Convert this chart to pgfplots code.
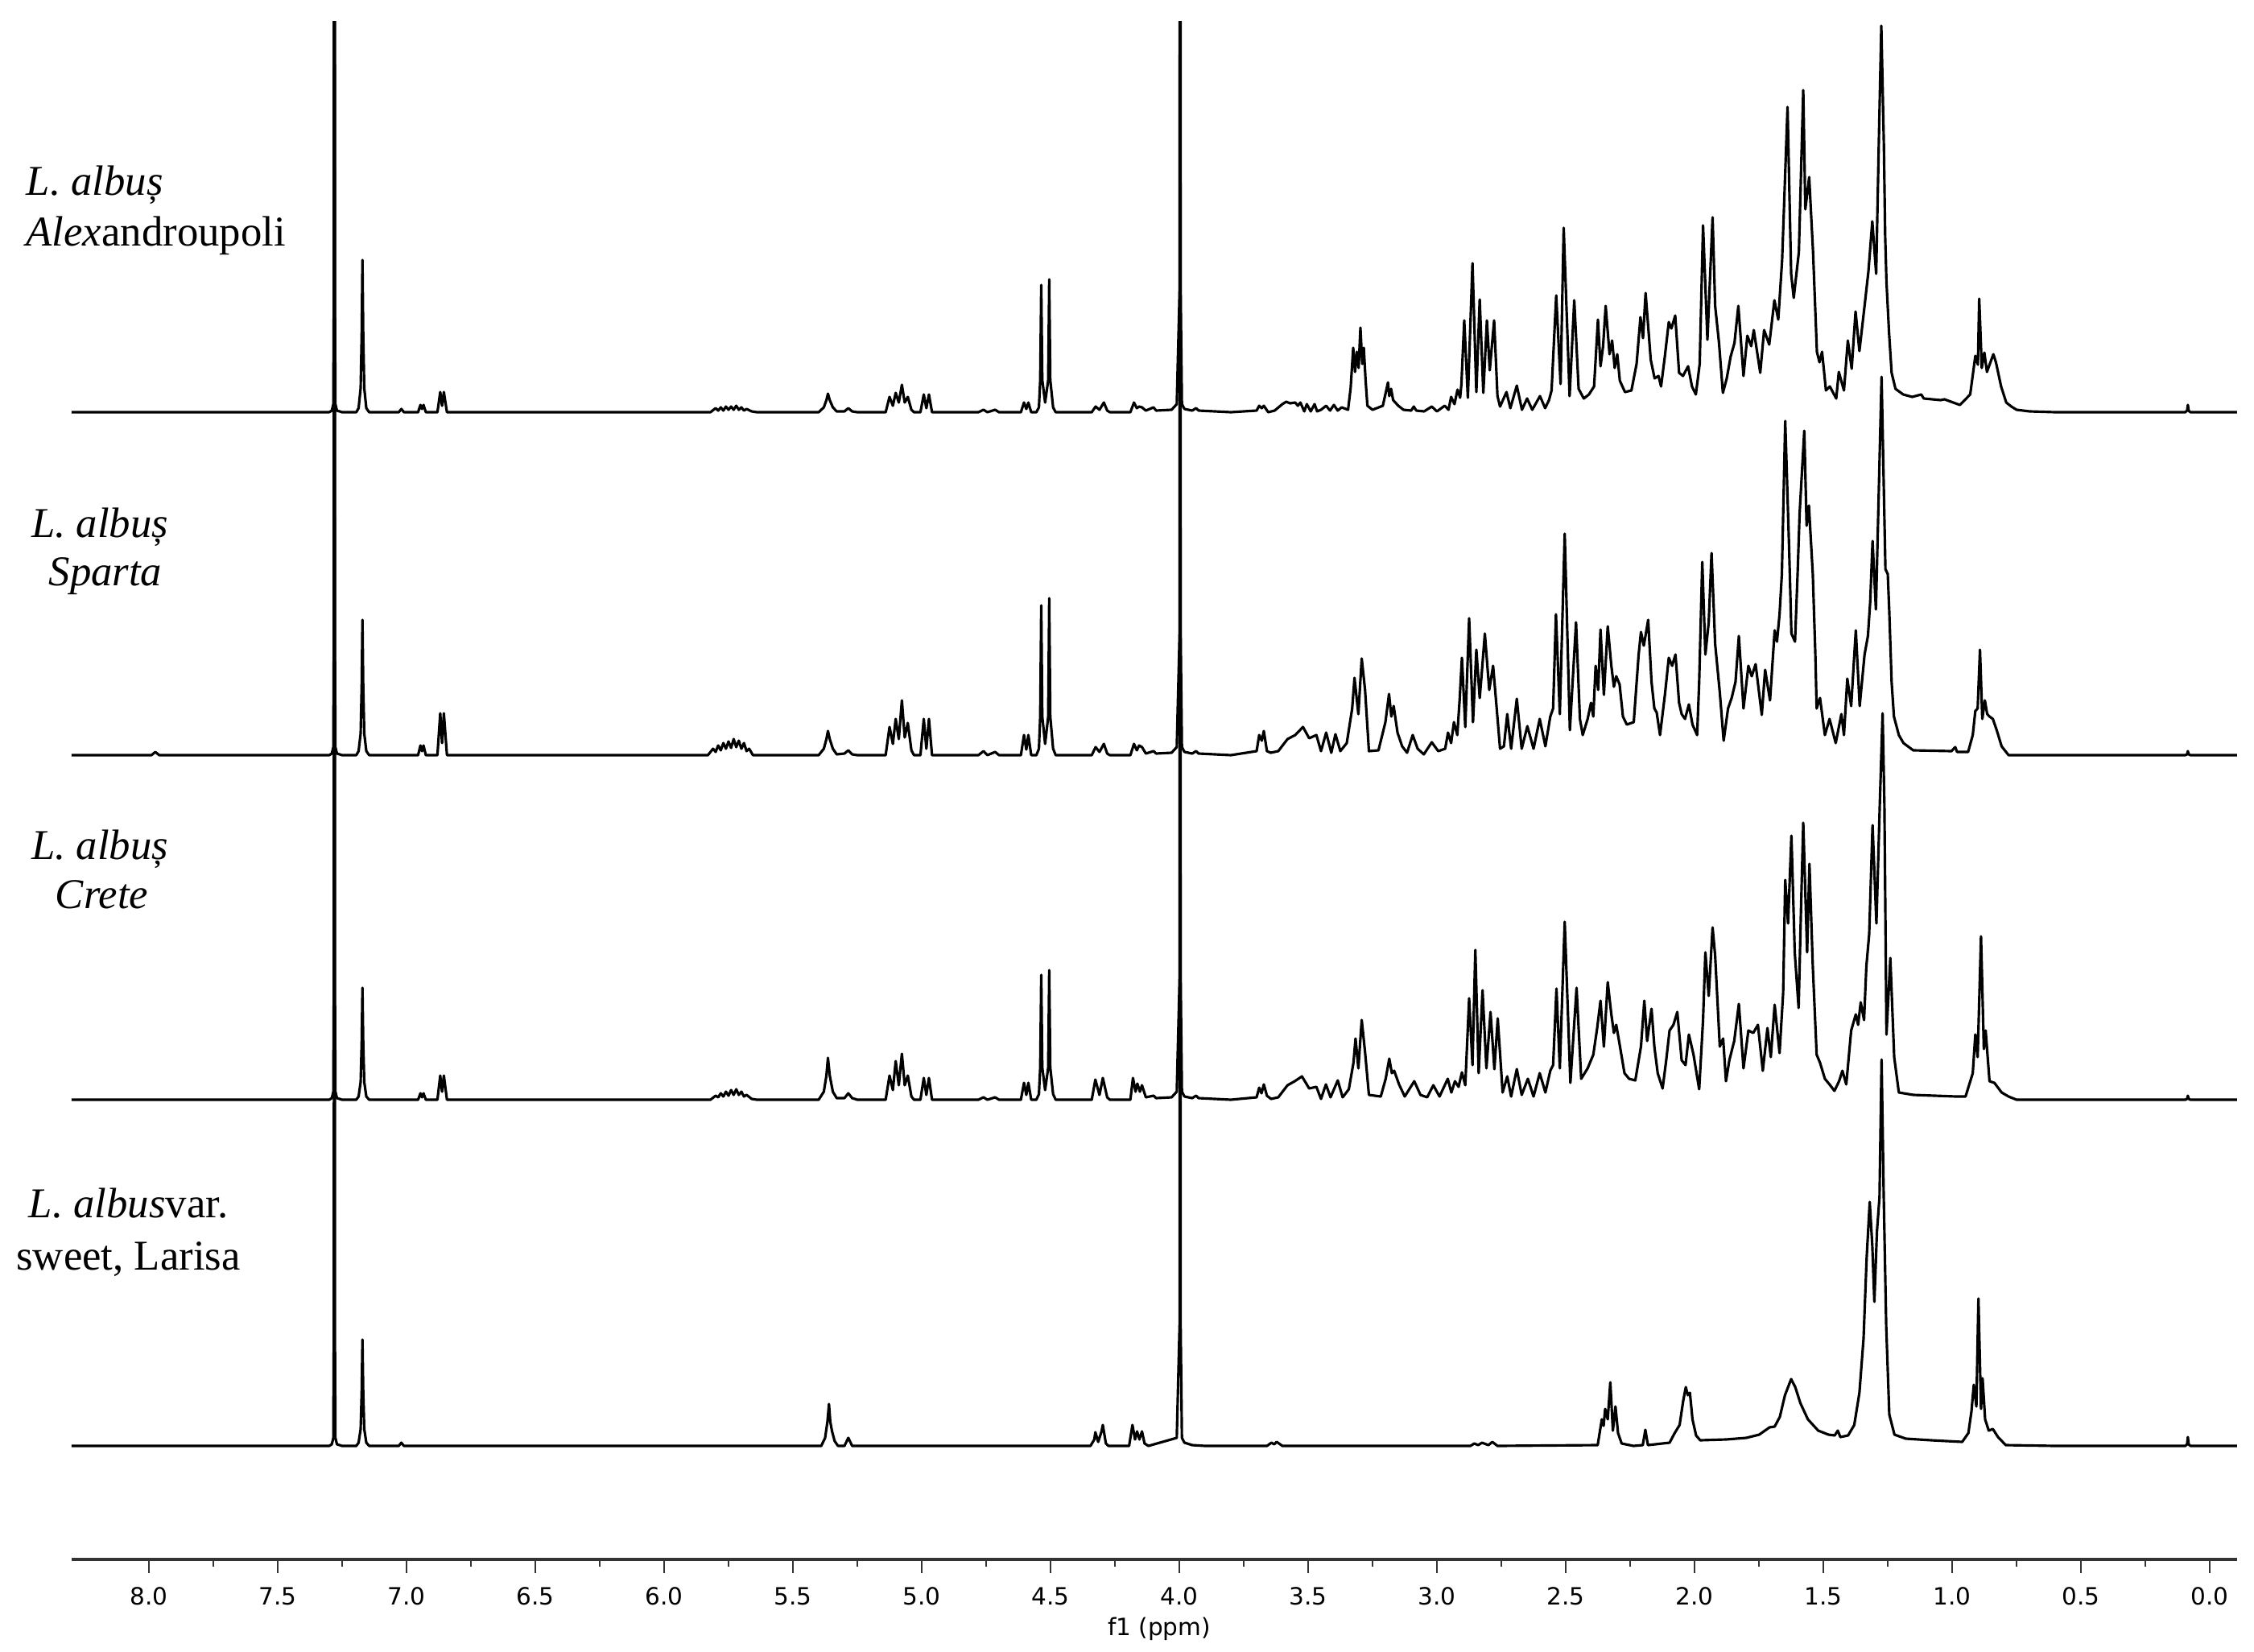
\documentclass[border=0pt]{standalone}
\usepackage{fontspec}
\setmainfont{Liberation Serif}
\newfontfamily\dejavu{DejaVu Sans}
\usepackage{pgfplots}
\pgfplotsset{compat=1.18}
\usepackage{pgfplotstable}

% heights in px above each trace's own baseline, x in ppm
\pgfplotstableread[row sep=\\]{
x h\\
8.3 0\\ 7.30 0\\ 7.29 2\\ 7.284 10\\ 7.282 150\\ 7.28 2000\\ 7.278 150\\ 7.276 10\\ 7.27 2\\ 7.25 0\\
7.195 0\\ 7.186 5\\ 7.178 30\\ 7.174 95\\ 7.171 189\\ 7.168 95\\ 7.164 30\\ 7.156 5\\ 7.145 0\\
7.03 0\\ 7.02 4\\ 7.01 0\\ 6.955 0\\ 6.946 9\\ 6.94 4\\ 6.934 9\\ 6.925 0\\
6.88 0\\ 6.869 25\\ 6.862 8\\ 6.855 25\\ 6.843 0\\
5.82 0\\ 5.80 5\\ 5.79 2\\ 5.78 6\\ 5.77 2\\ 5.76 7\\ 5.75 3\\ 5.74 7\\ 5.73 3\\ 5.72 8\\ 5.71 3\\ 5.70 6\\ 5.69 2\\ 5.68 4\\ 5.66 1\\ 5.64 0\\
5.40 0\\ 5.38 6\\ 5.37 15\\ 5.364 23\\ 5.357 15\\ 5.345 6\\ 5.33 1\\ 5.30 1\\ 5.285 5\\ 5.27 1\\ 5.25 0\\
5.14 0\\ 5.125 19\\ 5.112 8\\ 5.101 24\\ 5.089 12\\ 5.077 34\\ 5.066 12\\ 5.054 19\\ 5.04 3\\ 5.03 0\\
5.005 0\\ 4.992 22\\ 4.982 5\\ 4.972 22\\ 4.96 0\\ 4.78 0\\ 4.76 3\\ 4.745 0\\ 4.715 3\\ 4.70 0\\
4.615 0\\ 4.603 12\\ 4.594 4\\ 4.586 12\\ 4.575 0\\
4.555 0\\ 4.545 6\\ 4.540 40\\ 4.536 158\\ 4.532 40\\ 4.521 12\\ 4.509 40\\ 4.505 165\\ 4.501 40\\ 4.49 6\\ 4.48 0\\
4.34 0\\ 4.325 7\\ 4.31 3\\ 4.293 12\\ 4.28 2\\ 4.27 0\\
4.19 0\\ 4.176 12\\ 4.165 5\\ 4.156 7\\ 4.145 6\\ 4.13 2\\ 4.10 6\\ 4.09 2\\ 4.03 3\\
4.01 10\\ 3.999 150\\ 3.997 2000\\ 3.995 150\\ 3.99 10\\ 3.98 4\\ 3.95 2\\ 3.935 5\\ 3.925 2\\ 3.80 0\\
3.70 2\\ 3.69 8\\ 3.68 5\\ 3.672 8\\ 3.655 0\\ 3.63 2\\ 3.615 6\\ 3.60 10\\ 3.585 13\\ 3.57 11\\ 3.55 12\\ 3.54 8\\ 3.53 12\\
3.515 1\\ 3.505 10\\ 3.49 1\\ 3.475 10\\ 3.465 1\\ 3.45 3\\ 3.43 8\\ 3.415 2\\ 3.40 9\\ 3.385 2\\ 3.37 6\\ 3.345 3\\
3.335 30\\ 3.325 80\\ 3.318 50\\ 3.311 75\\ 3.304 55\\ 3.297 105\\ 3.29 60\\ 3.284 80\\ 3.277 40\\ 3.27 8\\ 3.25 3\\
3.21 8\\ 3.19 37\\ 3.185 20\\ 3.178 29\\ 3.17 15\\ 3.15 8\\ 3.13 3\\ 3.10 2\\ 3.09 7\\ 3.08 2\\ 3.05 1\\ 3.02 7\\ 3.00 1\\
2.97 8\\ 2.955 3\\ 2.945 19\\ 2.932 10\\ 2.92 28\\ 2.91 18\\ 2.905 35\\ 2.894 114\\ 2.88 18\\ 2.862 185\\ 2.847 25\\
2.834 140\\ 2.82 24\\ 2.806 114\\ 2.795 52\\ 2.778 114\\ 2.765 20\\ 2.755 7\\ 2.73 25\\ 2.715 5\\ 2.69 33\\ 2.67 3\\
2.65 17\\ 2.63 3\\ 2.60 20\\ 2.58 5\\ 2.565 15\\ 2.555 27\\ 2.537 145\\ 2.52 35\\ 2.508 229\\ 2.485 20\\ 2.467 139\\
2.45 29\\ 2.43 17\\ 2.41 22\\ 2.39 32\\ 2.375 115\\ 2.365 57\\ 2.355 82\\ 2.345 132\\ 2.33 72\\ 2.32 89\\ 2.31 55\\
2.30 72\\ 2.29 39\\ 2.27 25\\ 2.245 27\\ 2.225 60\\ 2.21 118\\ 2.20 92\\ 2.19 148\\ 2.17 65\\ 2.155 42\\ 2.14 45\\
2.13 32\\ 2.115 70\\ 2.10 112\\ 2.09 104\\ 2.075 120\\ 2.06 49\\ 2.045 45\\ 2.025 57\\ 2.01 32\\ 1.995 22\\ 1.98 60\\
1.967 232\\ 1.95 90\\ 1.93 242\\ 1.92 132\\ 1.905 86\\ 1.89 24\\ 1.875 42\\ 1.86 69\\ 1.845 86\\ 1.83 132\\ 1.81 45\\
1.795 95\\ 1.78 82\\ 1.77 102\\ 1.745 49\\ 1.73 102\\ 1.71 84\\ 1.69 139\\ 1.675 115\\ 1.66 189\\ 1.639 379\\
1.625 172\\ 1.615 142\\ 1.595 199\\ 1.578 400\\ 1.57 252\\ 1.555 292\\ 1.54 199\\ 1.525 75\\ 1.515 62\\ 1.505 75\\
1.49 27\\ 1.475 32\\ 1.45 17\\ 1.44 50\\ 1.42 27\\ 1.405 89\\ 1.39 54\\ 1.375 125\\ 1.36 76\\ 1.34 132\\ 1.325 175\\
1.31 237\\ 1.295 172\\ 1.285 330\\ 1.275 480\\ 1.265 330\\ 1.26 219\\ 1.255 162\\ 1.245 99\\ 1.235 49\\ 1.22 29\\
1.19 22\\ 1.155 19\\ 1.12 22\\ 1.11 17\\ 1.045 15\\ 1.03 16\\ 0.97 9\\ 0.93 22\\ 0.91 70\\ 0.90 59\\ 0.895 141\\
0.885 55\\ 0.875 74\\ 0.865 50\\ 0.84 72\\ 0.83 62\\ 0.81 32\\ 0.79 12\\ 0.77 7\\ 0.75 3\\ 0.70 1\\ 0.60 0\\
0.095 0\\ 0.088 2\\ 0.085 9\\ 0.082 2\\ 0.075 0\\ -0.106 0\\
}\specA

\pgfplotstableread[row sep=\\]{
x h\\
8.3 0\\ 7.99 0\\ 7.975 4\\ 7.96 0\\ 7.30 0\\ 7.29 2\\ 7.284 10\\ 7.282 150\\ 7.28 2000\\ 7.278 150\\ 7.276 10\\ 7.27 2\\ 7.25 0\\
7.195 0\\ 7.186 5\\ 7.178 27\\ 7.174 85\\ 7.171 168\\ 7.168 85\\ 7.164 27\\ 7.156 5\\ 7.145 0\\
6.955 0\\ 6.946 12\\ 6.94 5\\ 6.934 12\\ 6.925 0\\ 6.88 0\\ 6.869 52\\ 6.862 15\\ 6.855 52\\ 6.843 0\\
5.83 0\\ 5.81 8\\ 5.80 4\\ 5.79 12\\ 5.78 6\\ 5.77 15\\ 5.76 8\\ 5.75 17\\ 5.74 9\\ 5.73 20\\ 5.72 10\\ 5.71 18\\ 5.70 8\\ 5.69 15\\ 5.68 5\\ 5.67 8\\ 5.655 0\\
5.40 0\\ 5.38 8\\ 5.37 20\\ 5.364 30\\ 5.357 20\\ 5.345 8\\ 5.33 1\\ 5.30 2\\ 5.285 6\\ 5.27 1\\ 5.25 0\\
5.14 0\\ 5.125 35\\ 5.112 14\\ 5.101 45\\ 5.089 20\\ 5.077 68\\ 5.066 22\\ 5.054 40\\ 5.04 6\\ 5.03 0\\
5.005 0\\ 4.992 45\\ 4.982 8\\ 4.972 45\\ 4.96 0\\ 4.78 0\\ 4.76 5\\ 4.745 0\\ 4.715 4\\ 4.70 0\\
4.615 0\\ 4.603 25\\ 4.594 7\\ 4.586 25\\ 4.575 0\\
4.555 0\\ 4.545 8\\ 4.540 48\\ 4.536 186\\ 4.532 48\\ 4.521 14\\ 4.509 48\\ 4.505 195\\ 4.501 48\\ 4.49 8\\ 4.48 0\\
4.34 0\\ 4.325 10\\ 4.31 4\\ 4.293 14\\ 4.28 2\\ 4.27 0\\
4.19 0\\ 4.176 14\\ 4.165 6\\ 4.156 12\\ 4.145 10\\ 4.13 2\\ 4.10 5\\ 4.09 2\\ 4.03 3\\
4.01 10\\ 3.999 150\\ 3.997 2000\\ 3.995 150\\ 3.99 10\\ 3.98 4\\ 3.95 2\\ 3.935 5\\ 3.925 2\\ 3.80 0\\
3.70 5\\ 3.69 25\\ 3.68 18\\ 3.672 30\\ 3.66 5\\ 3.645 3\\ 3.616 5\\ 3.58 20\\ 3.55 25\\ 3.52 35\\ 3.496 21\\
3.468 25\\ 3.45 5\\ 3.43 28\\ 3.41 3\\ 3.394 26\\ 3.375 5\\ 3.35 15\\
3.329 58\\ 3.32 96\\ 3.305 51\\ 3.292 120\\ 3.279 81\\ 3.264 5\\ 3.227 6\\ 3.20 41\\ 3.186 76\\ 3.177 48\\ 3.168 61\\
3.153 28\\ 3.135 11\\ 3.116 3\\ 3.094 25\\ 3.075 8\\ 3.051 1\\ 3.02 16\\ 2.995 5\\ 2.968 8\\ 2.957 28\\ 2.945 15\\
2.934 41\\ 2.921 25\\ 2.912 68\\ 2.903 121\\ 2.89 35\\ 2.875 170\\ 2.86 41\\ 2.847 131\\ 2.834 71\\ 2.827 98\\
2.814 151\\ 2.797 81\\ 2.782 111\\ 2.768 58\\ 2.755 8\\ 2.74 11\\ 2.727 51\\ 2.712 8\\ 2.69 70\\ 2.671 8\\ 2.649 36\\
2.625 8\\ 2.601 45\\ 2.579 11\\ 2.56 48\\ 2.549 58\\ 2.538 175\\ 2.523 51\\ 2.504 275\\ 2.484 31\\ 2.46 165\\
2.445 45\\ 2.434 25\\ 2.415 45\\ 2.402 65\\ 2.393 48\\ 2.384 111\\ 2.374 81\\ 2.365 156\\ 2.352 75\\ 2.337 160\\
2.323 111\\ 2.313 85\\ 2.304 98\\ 2.291 88\\ 2.278 48\\ 2.263 38\\ 2.236 41\\ 2.217 125\\ 2.208 153\\ 2.197 136\\
2.18 168\\ 2.167 91\\ 2.156 58\\ 2.147 53\\ 2.134 25\\ 2.115 75\\ 2.10 121\\ 2.087 111\\ 2.074 125\\ 2.06 65\\
2.05 51\\ 2.037 45\\ 2.022 63\\ 2.008 38\\ 1.99 25\\ 1.982 91\\ 1.97 240\\ 1.958 125\\ 1.945 165\\ 1.934 251\\
1.92 138\\ 1.902 78\\ 1.887 18\\ 1.87 58\\ 1.856 71\\ 1.841 91\\ 1.828 148\\ 1.81 58\\ 1.791 111\\ 1.778 98\\
1.763 113\\ 1.739 50\\ 1.726 106\\ 1.707 68\\ 1.689 155\\ 1.68 141\\ 1.67 175\\ 1.661 225\\ 1.648 415\\ 1.633 258\\
1.624 151\\ 1.61 141\\ 1.60 225\\ 1.592 301\\ 1.574 403\\ 1.565 285\\ 1.556 310\\ 1.541 225\\ 1.531 125\\ 1.526 58\\
1.513 71\\ 1.494 25\\ 1.476 45\\ 1.452 15\\ 1.43 51\\ 1.42 25\\ 1.407 95\\ 1.392 61\\ 1.374 155\\ 1.359 61\\ 1.34 125\\
1.327 148\\ 1.318 191\\ 1.309 266\\ 1.296 181\\ 1.285 325\\ 1.274 470\\ 1.267 358\\ 1.259 231\\ 1.25 225\\ 1.244 178\\
1.235 91\\ 1.226 48\\ 1.207 25\\ 1.189 15\\ 1.151 6\\ 1.003 5\\ 0.988 10\\ 0.981 4\\ 0.938 4\\ 0.92 25\\ 0.91 55\\
0.901 58\\ 0.892 131\\ 0.883 45\\ 0.873 68\\ 0.864 51\\ 0.855 48\\ 0.842 45\\ 0.827 31\\ 0.808 11\\ 0.781 0\\
0.095 0\\ 0.088 1\\ 0.085 5\\ 0.082 1\\ 0.075 0\\ -0.106 0\\
}\specB

\pgfplotstableread[row sep=\\]{
x h\\
8.3 0\\ 7.30 0\\ 7.29 2\\ 7.284 10\\ 7.282 150\\ 7.28 2000\\ 7.278 150\\ 7.276 10\\ 7.27 2\\ 7.25 0\\
7.195 0\\ 7.186 4\\ 7.178 22\\ 7.174 70\\ 7.171 139\\ 7.168 70\\ 7.164 22\\ 7.156 4\\ 7.145 0\\
6.955 0\\ 6.946 8\\ 6.94 3\\ 6.934 8\\ 6.925 0\\ 6.88 0\\ 6.869 30\\ 6.862 10\\ 6.855 30\\ 6.843 0\\
5.82 0\\ 5.80 5\\ 5.79 3\\ 5.78 8\\ 5.77 4\\ 5.76 10\\ 5.75 5\\ 5.74 12\\ 5.73 6\\ 5.72 13\\ 5.71 6\\ 5.70 10\\ 5.69 4\\ 5.68 6\\ 5.66 1\\ 5.64 0\\
5.40 0\\ 5.38 10\\ 5.37 30\\ 5.364 52\\ 5.357 30\\ 5.345 10\\ 5.33 2\\ 5.30 2\\ 5.285 8\\ 5.27 2\\ 5.25 0\\
5.14 0\\ 5.125 30\\ 5.112 12\\ 5.101 48\\ 5.089 18\\ 5.077 57\\ 5.066 18\\ 5.054 30\\ 5.04 4\\ 5.03 0\\
5.005 0\\ 4.992 27\\ 4.982 6\\ 4.972 27\\ 4.96 0\\ 4.78 0\\ 4.76 3\\ 4.745 0\\ 4.715 3\\ 4.70 0\\
4.615 0\\ 4.603 21\\ 4.594 6\\ 4.586 21\\ 4.575 0\\
4.555 0\\ 4.545 7\\ 4.540 40\\ 4.536 155\\ 4.532 40\\ 4.521 12\\ 4.509 40\\ 4.505 161\\ 4.501 40\\ 4.49 7\\ 4.48 0\\
4.34 0\\ 4.326 25\\ 4.31 6\\ 4.297 27\\ 4.28 3\\ 4.27 0\\
4.19 0\\ 4.18 27\\ 4.17 10\\ 4.163 20\\ 4.153 10\\ 4.145 18\\ 4.13 3\\ 4.10 5\\ 4.09 2\\ 4.03 3\\
4.01 10\\ 3.999 150\\ 3.997 2000\\ 3.995 150\\ 3.99 10\\ 3.98 4\\ 3.95 2\\ 3.935 5\\ 3.925 2\\ 3.80 0\\
3.70 3\\ 3.69 15\\ 3.681 8\\ 3.672 19\\ 3.66 5\\ 3.644 1\\ 3.616 3\\ 3.58 18\\ 3.552 23\\ 3.524 29\\ 3.496 14\\
3.468 16\\ 3.45 1\\ 3.431 19\\ 3.413 3\\ 3.385 24\\ 3.366 3\\ 3.342 13\\
3.324 46\\ 3.316 76\\ 3.305 39\\ 3.292 99\\ 3.279 59\\ 3.264 6\\ 3.218 4\\ 3.199 26\\ 3.185 51\\ 3.175 33\\ 3.166 36\\
3.147 19\\ 3.125 4\\ 3.088 23\\ 3.064 6\\ 3.038 3\\ 3.014 18\\ 2.99 4\\ 2.958 26\\ 2.944 9\\ 2.93 23\\ 2.916 16\\
2.903 34\\ 2.89 18\\ 2.875 126\\ 2.862 43\\ 2.851 186\\ 2.838 33\\ 2.823 136\\ 2.808 39\\ 2.792 109\\ 2.777 38\\
2.764 101\\ 2.745 9\\ 2.727 29\\ 2.712 4\\ 2.69 38\\ 2.671 6\\ 2.647 26\\ 2.625 4\\ 2.601 33\\ 2.579 9\\ 2.56 36\\
2.549 43\\ 2.536 138\\ 2.523 39\\ 2.504 221\\ 2.482 21\\ 2.458 139\\ 2.44 26\\ 2.415 39\\ 2.393 56\\ 2.378 89\\
2.365 123\\ 2.352 66\\ 2.337 146\\ 2.323 106\\ 2.313 83\\ 2.304 93\\ 2.291 69\\ 2.272 33\\ 2.254 26\\ 2.23 24\\
2.208 66\\ 2.195 123\\ 2.184 73\\ 2.167 113\\ 2.156 66\\ 2.143 33\\ 2.124 14\\ 2.11 49\\ 2.097 86\\ 2.082 93\\
2.067 109\\ 2.05 49\\ 2.035 43\\ 2.022 81\\ 2.004 56\\ 1.982 13\\ 1.967 99\\ 1.958 183\\ 1.945 129\\ 1.93 214\\
1.92 179\\ 1.902 66\\ 1.889 76\\ 1.878 23\\ 1.865 49\\ 1.846 73\\ 1.828 119\\ 1.81 39\\ 1.791 86\\ 1.772 83\\
1.754 93\\ 1.735 36\\ 1.717 89\\ 1.704 53\\ 1.689 118\\ 1.67 58\\ 1.656 133\\ 1.648 273\\ 1.637 219\\ 1.624 328\\
1.611 183\\ 1.596 114\\ 1.587 233\\ 1.578 344\\ 1.563 183\\ 1.554 293\\ 1.541 166\\ 1.526 56\\ 1.513 46\\ 1.494 26\\
1.476 19\\ 1.457 11\\ 1.439 23\\ 1.426 36\\ 1.411 19\\ 1.392 86\\ 1.374 106\\ 1.365 93\\ 1.355 121\\ 1.342 99\\
1.333 166\\ 1.322 206\\ 1.309 341\\ 1.294 219\\ 1.281 366\\ 1.27 480\\ 1.263 366\\ 1.255 81\\ 1.24 176\\ 1.225 53\\
1.207 9\\ 1.151 6\\ 0.985 4\\ 0.948 4\\ 0.92 33\\ 0.91 81\\ 0.901 53\\ 0.888 203\\ 0.877 63\\ 0.87 86\\ 0.855 23\\
0.836 21\\ 0.808 9\\ 0.781 4\\ 0.75 0\\ 0.095 0\\ 0.088 1\\ 0.085 5\\ 0.082 1\\ 0.075 0\\ -0.106 0\\
}\specC

\pgfplotstableread[row sep=\\]{
x h\\
8.3 0\\ 7.30 0\\ 7.29 2\\ 7.284 10\\ 7.282 150\\ 7.28 2000\\ 7.278 150\\ 7.276 10\\ 7.27 2\\ 7.25 0\\
7.195 0\\ 7.186 4\\ 7.178 21\\ 7.174 66\\ 7.171 132\\ 7.168 66\\ 7.164 21\\ 7.156 4\\ 7.145 0\\
7.03 0\\ 7.02 4\\ 7.01 0\\
5.39 0\\ 5.375 10\\ 5.366 30\\ 5.36 52\\ 5.355 30\\ 5.348 18\\ 5.338 6\\ 5.325 0\\ 5.30 0\\ 5.285 10\\ 5.27 0\\
4.345 0\\ 4.33 8\\ 4.326 17\\ 4.315 5\\ 4.302 18\\ 4.297 26\\ 4.285 3\\ 4.275 0\\
4.195 0\\ 4.182 26\\ 4.172 8\\ 4.164 18\\ 4.155 8\\ 4.145 18\\ 4.135 3\\ 4.12 0\\
4.01 10\\ 3.999 150\\ 3.997 2000\\ 3.995 150\\ 3.99 10\\ 3.98 4\\ 3.95 1\\ 3.90 0\\
3.66 0\\ 3.642 4\\ 3.632 2\\ 3.622 5\\ 3.60 0\\ 2.87 0\\ 2.855 3\\ 2.84 1\\ 2.825 4\\ 2.80 1\\ 2.785 5\\ 2.765 0\\
2.376 1\\ 2.36 33\\ 2.353 25\\ 2.347 46\\ 2.337 33\\ 2.327 79\\ 2.317 19\\ 2.307 49\\ 2.297 16\\ 2.283 3\\ 2.237 0\\
2.201 1\\ 2.191 20\\ 2.181 1\\
2.097 4\\ 2.077 16\\ 2.058 26\\ 2.044 56\\ 2.034 73\\ 2.026 63\\ 2.018 66\\ 2.008 33\\ 1.994 13\\ 1.978 7\\
1.878 8\\ 1.799 10\\ 1.749 14\\ 1.709 23\\ 1.689 24\\ 1.669 36\\ 1.649 63\\ 1.625 83\\ 1.609 73\\ 1.589 53\\
1.56 33\\ 1.52 19\\ 1.48 14\\ 1.456 13\\ 1.444 19\\ 1.434 11\\ 1.404 13\\ 1.38 26\\ 1.36 66\\ 1.344 133\\
1.332 233\\ 1.32 303\\ 1.31 249\\ 1.302 179\\ 1.292 266\\ 1.282 309\\ 1.274 480\\ 1.266 316\\ 1.256 149\\
1.244 39\\ 1.224 14\\ 1.18 9\\ 1.081 7\\ 0.961 5\\ 0.937 16\\ 0.925 43\\ 0.916 76\\ 0.906 49\\ 0.898 183\\
0.888 46\\ 0.882 84\\ 0.872 33\\ 0.858 19\\ 0.842 21\\ 0.822 11\\ 0.792 1\\ 0.6 0\\
0.095 0\\ 0.088 2\\ 0.085 11\\ 0.082 2\\ 0.075 0\\ -0.106 0\\
}\specD

\newcommand\lbl{\fontsize{15}{18}\selectfont}
\newcommand\tickfont{\dejavu\fontsize{8.4}{10}\selectfont}

\begin{document}
\begin{tikzpicture}
\begin{axis}[
    scale only axis,
    width=26.9cm, height=19.1cm,
    x dir=reverse,
    xmin=-0.106, xmax=8.3,
    ymin=0, ymax=1910,
    axis x line*=bottom,
    axis y line=none,
    x axis line style={line width=1.1pt, black!80},
    xtick={0,0.5,...,8},
    minor x tick num=1,
    tick align=outside,
    major tick length=0.17cm,
    minor tick length=0.09cm,
    tick style={black!80, line width=0.6pt},
    /pgf/number format/assume math mode=true,
    xticklabel style={font=\tickfont, anchor=base, yshift=-0.39cm,
        /pgf/number format/.cd, fixed, fixed zerofill, precision=1},
    spec/.style={black, line width=0.9pt, line join=round},
]
\addplot[spec] table[x=x, y expr=\thisrow{h}+1425] {\specA};
\addplot[spec] table[x=x, y expr=\thisrow{h}+999] {\specB};
\addplot[spec] table[x=x, y expr=\thisrow{h}+571] {\specC};
\addplot[spec] table[x=x, y expr=\thisrow{h}+141] {\specD};
\end{axis}

\begin{scope}[every node/.style={inner sep=0pt, font=\lbl}]
\node[anchor=base west] at (-0.57,16.94) {\textit{L. albuș}};
\node[anchor=base west] at (-0.57,16.31) {\textit{Alex}androupoli};
\node[anchor=base] at (0.35,12.70) {\textit{L. albuș}};
\node[anchor=base] at (0.42,12.09) {\textit{Sparta}};
\node[anchor=base] at (0.35,8.70) {\textit{L. albuș}};
\node[anchor=base] at (0.375,8.09) {\textit{Crete}};
\node[anchor=base] at (0.705,4.25) {\textit{L. albus}var.};
\node[anchor=base] at (0.705,3.60) {sweet, Larisa};
\end{scope}
\node[anchor=base, inner sep=0pt, font=\tickfont] at (13.51,-0.94) {f1 (ppm)};

\pgfresetboundingbox
\path (-0.89,-1.14) rectangle (27.11,19.37);
\end{tikzpicture}
\end{document}
